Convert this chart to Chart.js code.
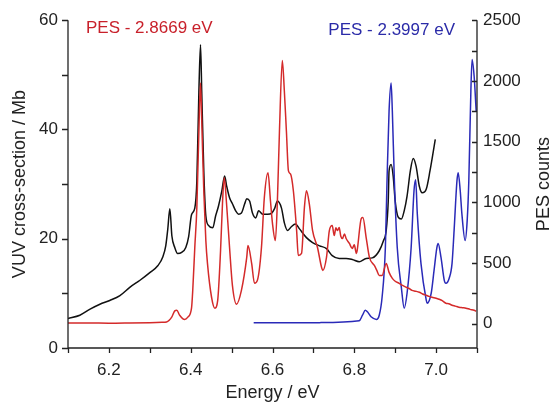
<!DOCTYPE html>
<html>
<head>
<meta charset="utf-8">
<script src="https://cdn.jsdelivr.net/npm/chart.js@4.4.1/dist/chart.umd.min.js"></script>
<style>
  body { margin: 0; background: #fff; }
  #wrap { width: 554px; height: 404px; }
</style>
</head>
<body>
<div id="wrap"><canvas id="vuvChart"></canvas></div>
<script>
// VUV cross-section (left axis, Mb)
var vuvEnergy = [6.100, 6.129, 6.154, 6.178, 6.202, 6.227, 6.251, 6.276, 6.300, 6.320, 6.332, 6.339, 6.344, 6.349, 6.354,
    6.361, 6.368, 6.378, 6.388, 6.395, 6.402, 6.410, 6.415, 6.420, 6.424, 6.427, 6.432, 6.437, 6.444, 6.454,
    6.461, 6.468, 6.476, 6.483, 6.488, 6.495, 6.502, 6.510, 6.517, 6.524, 6.532, 6.537, 6.544, 6.551, 6.559,
    6.566, 6.576, 6.588, 6.598, 6.605, 6.612, 6.622, 6.629, 6.637, 6.646, 6.656, 6.666, 6.683, 6.698, 6.715,
    6.732, 6.746, 6.763, 6.780, 6.795, 6.812, 6.829, 6.844, 6.861, 6.871, 6.878, 6.883, 6.885, 6.890, 6.895,
    6.900, 6.907, 6.915, 6.922, 6.929, 6.937, 6.944, 6.951, 6.959, 6.966, 6.976, 6.985, 6.998];
var vuvSigma = [5.4, 6.0, 7.1, 8.0, 8.7, 9.6, 11.1, 12.4, 13.8, 15.1, 16.7, 18.7, 21.8, 25.5, 20.5,
    18.4, 17.3, 17.5, 18.4, 20.4, 24.4, 25.6, 30.5, 46.9, 55.5, 46.9, 32.4, 24.2, 22.4, 22.0,
    24.2, 26.0, 28.7, 31.5, 29.6, 27.5, 26.4, 25.1, 24.5, 24.7, 26.4, 27.3, 26.9, 24.7, 23.8,
    25.1, 24.5, 24.5, 24.7, 25.5, 26.9, 25.6, 22.9, 21.5, 22.2, 22.7, 21.8, 20.2, 19.3, 18.7,
    18.2, 16.9, 16.4, 16.4, 16.2, 15.8, 16.4, 16.5, 17.8, 19.6, 21.5, 26.9, 32.4, 33.6, 31.5,
    26.9, 24.0, 23.6, 25.1, 27.8, 32.4, 34.7, 33.3, 29.6, 28.4, 29.1, 32.4, 38.2];

// PES at 2.8669 eV (right axis, counts)
var pesRedEnergy = [6.100, 6.150, 6.200, 6.250, 6.300, 6.330, 6.341, 6.354, 6.361, 6.366, 6.373, 6.385, 6.393, 6.402, 6.405,
    6.410, 6.415, 6.420, 6.424, 6.427, 6.432, 6.437, 6.441, 6.451, 6.459, 6.466, 6.473, 6.478, 6.482, 6.488,
    6.495, 6.502, 6.512, 6.524, 6.537, 6.540, 6.549, 6.556, 6.563, 6.573, 6.580, 6.589, 6.595, 6.600, 6.607,
    6.612, 6.617, 6.624, 6.629, 6.634, 6.639, 6.644, 6.651, 6.659, 6.663, 6.671, 6.678, 6.683, 6.690, 6.698,
    6.710, 6.720, 6.723, 6.732, 6.739, 6.746, 6.751, 6.755, 6.759, 6.763, 6.767, 6.771, 6.776, 6.780, 6.788,
    6.795, 6.800, 6.805, 6.807, 6.817, 6.821, 6.829, 6.837, 6.849, 6.855, 6.861, 6.868, 6.878, 6.885, 6.893,
    6.900, 6.910, 6.918, 6.927, 6.934, 6.941, 6.950, 6.959, 6.967, 6.976, 6.983, 6.990, 7.000, 7.007, 7.015,
    7.024, 7.031, 7.039, 7.047, 7.056, 7.064, 7.073, 7.083, 7.093, 7.098];
var pesRedCounts = [5, 6, 4, 6, 9, 12, 15, 57, 106, 111, 70, 35, 54, 128, 275,
    628, 956, 1586, 1983, 1669, 1095, 685, 497, 218, 128, 193, 603, 1013, 1202, 972,
    628, 316, 161, 275, 546, 644, 497, 333, 357, 628, 1038, 1243, 1013, 825, 685,
    1013, 1586, 2169, 1915, 1586, 1259, 1234, 1095, 767, 562, 579, 956, 1095, 988, 767,
    628, 464, 439, 546, 767, 808, 726, 790, 767, 792, 720, 702, 740, 702, 661,
    620, 650, 579, 603, 866, 874, 710, 546, 480, 440, 398, 398, 497, 423, 374,
    350, 333, 315, 300, 290, 275, 268, 259, 245, 234, 225, 218, 210, 202, 190,
    169, 165, 152, 145, 136, 132, 128, 118, 111, 103];

// PES at 2.3997 eV (right axis, counts)
var pesBlueEnergy = [6.554, 6.617, 6.715, 6.812, 6.820, 6.827, 6.832, 6.841, 6.854, 6.861, 6.868, 6.876, 6.880, 6.885, 6.890,
    6.893, 6.898, 6.905, 6.915, 6.922, 6.929, 6.939, 6.946, 6.950, 6.954, 6.963, 6.976, 6.978, 6.988, 6.995,
    7.002, 7.005, 7.012, 7.020, 7.024, 7.032, 7.039, 7.044, 7.051, 7.054, 7.059, 7.063, 7.071, 7.076, 7.080,
    7.085, 7.088, 7.093, 7.098];
var pesBlueCounts = [7, 7, 9, 24, 70, 111, 98, 57, 35, 70, 220, 630, 1177, 1751, 1983,
    1751, 1177, 628, 300, 128, 251, 628, 1095, 1185, 907, 497, 193, 169, 251, 439,
    628, 661, 546, 357, 333, 374, 497, 767, 1177, 1243, 1095, 907, 685, 849, 1177,
    1915, 2177, 2038, 1751];

// right axis tick values (labels on every second one)
var countTicks = [0, 250, 500, 750, 1000, 1250, 1500, 1750, 2000, 2250, 2500];

var redLabel = "PES - 2.8669 eV";
var blueLabel = "PES - 2.3997 eV";
var rightTitle = "PES counts";

function toPoints(xs, ys) {
    var pts = [];
    for (var i = 0; i < xs.length; i++) {
        pts.push({ x: xs[i], y: ys[i] });
    }
    return pts;
}

var axisColor = "#222";
var fontFamily = "'Liberation Sans', Arial, sans-serif";

// axis lines, tick marks, right title and the two in-plot labels
var framePlugin = {
    id: "frame",
    afterDraw: function(chart) {
        var ctx = chart.ctx;
        var a = chart.chartArea;
        var sx = chart.scales.x, sy = chart.scales.y, sy1 = chart.scales.y1;
        ctx.save();
        ctx.strokeStyle = axisColor;
        ctx.lineWidth = 1.3;
        ctx.beginPath();
        ctx.moveTo(a.left, a.top);
        ctx.lineTo(a.left, a.bottom);
        ctx.lineTo(a.right, a.bottom);
        ctx.lineTo(a.right, a.top);
        sx.ticks.forEach(function(t) {
            var p = Math.round(sx.getPixelForValue(t.value)) + 0.5;
            ctx.moveTo(p, a.bottom);
            ctx.lineTo(p, a.bottom + 5);
        });
        sy.ticks.forEach(function(t) {
            var p = Math.round(sy.getPixelForValue(t.value)) + 0.5;
            ctx.moveTo(a.left, p);
            ctx.lineTo(a.left - 6, p);
        });
        sy1.ticks.forEach(function(t) {
            var p = Math.round(sy1.getPixelForValue(t.value)) + 0.5;
            ctx.moveTo(a.right, p);
            ctx.lineTo(a.right - 5, p);
        });
        ctx.stroke();

        ctx.font = "17px " + fontFamily;
        ctx.textBaseline = "middle";
        ctx.textAlign = "left";
        ctx.fillStyle = "#c8202a";
        ctx.fillText(redLabel, a.left + 18, a.top + 8);
        ctx.textAlign = "right";
        ctx.fillStyle = "#2b2ba8";
        ctx.fillText(blueLabel, a.right - 22, a.top + 10);

        ctx.save();
        ctx.translate(chart.width - 10, (a.top + a.bottom) / 2);
        ctx.rotate(-Math.PI / 2);
        ctx.textAlign = "center";
        ctx.fillStyle = axisColor;
        ctx.font = "18px " + fontFamily;
        ctx.fillText(rightTitle, 0, 0);
        ctx.restore();
        ctx.restore();
    }
};

var ctx = document.getElementById("vuvChart").getContext("2d");
var chart = new Chart(ctx, {
    type: "line",
    data: {
        datasets: [
            {
                label: "VUV",
                data: toPoints(vuvEnergy, vuvSigma),
                borderColor: "#111",
                borderWidth: 1.5,
                yAxisID: "y",
                order: 3
            },
            {
                label: redLabel,
                data: toPoints(pesRedEnergy, pesRedCounts),
                borderColor: "#d42a2a",
                borderWidth: 1.5,
                yAxisID: "y1",
                order: 1
            },
            {
                label: blueLabel,
                data: toPoints(pesBlueEnergy, pesBlueCounts),
                borderColor: "#2a2ab8",
                borderWidth: 1.5,
                yAxisID: "y1",
                order: 2
            }
        ]
    },
    options: {
        responsive: true,
        maintainAspectRatio: false,
        animation: false,
        devicePixelRatio: 1,
        layout: { padding: { top: 18, left: 0, right: 0, bottom: 0 } },
        elements: {
            point: { radius: 0 },
            line: { cubicInterpolationMode: "monotone", fill: false }
        },
        plugins: {
            legend: { display: false },
            tooltip: { enabled: false }
        },
        scales: {
            x: {
                type: "linear",
                min: 6.1,
                max: 7.1,
                grid: { display: false, drawTicks: false },
                border: { display: false },
                ticks: {
                    stepSize: 0.1,
                    autoSkip: false,
                    maxRotation: 0,
                    padding: 12,
                    color: axisColor,
                    font: { size: 17, family: fontFamily },
                    callback: function(v) {
                        return Math.round(v * 10) % 2 === 0 ? v.toFixed(1) : "";
                    }
                },
                title: {
                    display: true,
                    text: "Energy / eV",
                    color: axisColor,
                    font: { size: 18, family: fontFamily },
                    padding: { top: 0, bottom: 0 }
                },
                afterFit: function(scale) { scale.height = 56; }
            },
            y: {
                position: "left",
                min: 0,
                max: 60,
                grid: { display: false, drawTicks: false },
                border: { display: false },
                ticks: {
                    stepSize: 10,
                    autoSkip: false,
                    padding: 10,
                    color: axisColor,
                    font: { size: 17, family: fontFamily },
                    callback: function(v) { return v % 20 === 0 ? v : ""; }
                },
                title: {
                    display: true,
                    text: "VUV cross-section / Mb",
                    color: axisColor,
                    font: { size: 18, family: fontFamily },
                    padding: { top: 9, bottom: 0 }
                },
                afterFit: function(scale) { scale.width = 68; }
            },
            y1: {
                position: "right",
                min: -200,
                max: 2500,
                grid: { display: false, drawTicks: false },
                border: { display: false },
                afterBuildTicks: function(scale) {
                    scale.ticks = countTicks.map(function(v) { return { value: v }; });
                },
                ticks: {
                    autoSkip: false,
                    padding: 6,
                    color: axisColor,
                    font: { size: 17, family: fontFamily },
                    callback: function(v) { return v % 500 === 0 ? v : ""; }
                },
                afterFit: function(scale) { scale.width = 77; }
            }
        }
    },
    plugins: [framePlugin]
});
</script>
</body>
</html>
